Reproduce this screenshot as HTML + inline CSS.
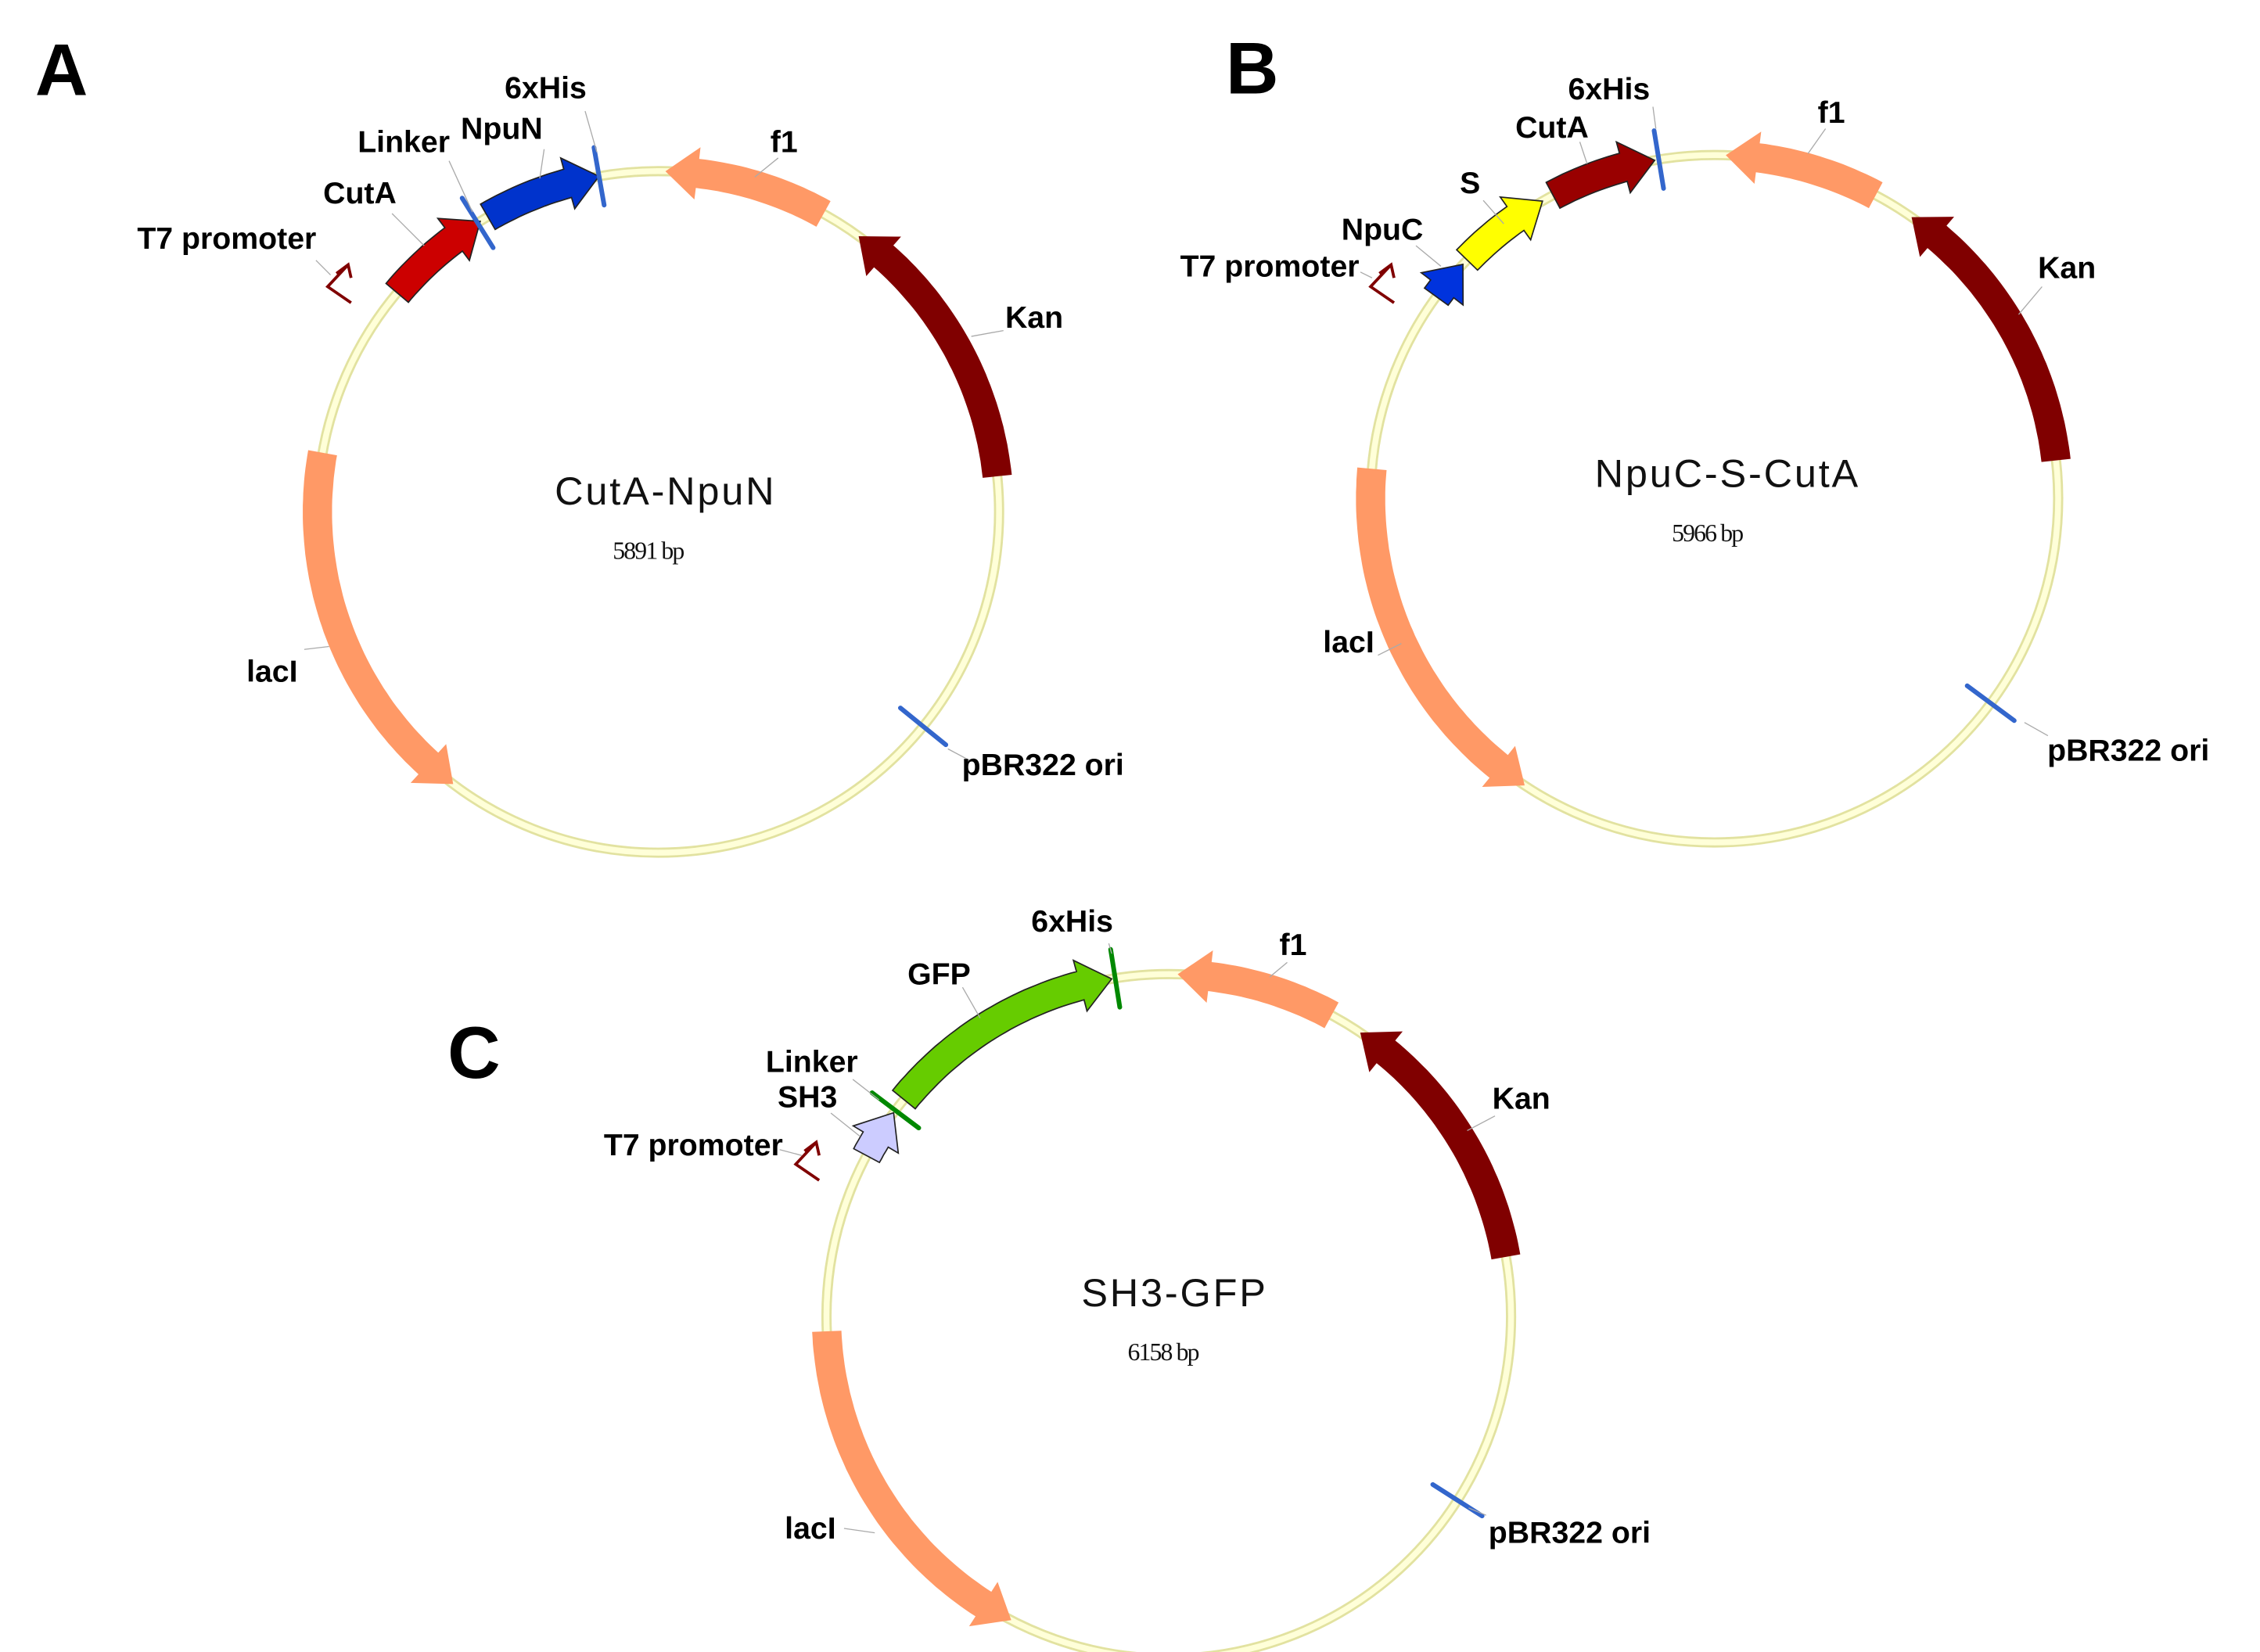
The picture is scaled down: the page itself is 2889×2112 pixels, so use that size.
<!DOCTYPE html>
<html><head><meta charset="utf-8"><style>
html,body{margin:0;padding:0;background:#fff;}
svg{display:block;}
text{font-family:"Liberation Sans",sans-serif;}
.lbl{font-weight:bold;font-size:21px;fill:#000;}
.panel{font-weight:bold;font-size:50px;fill:#000;}
.title{font-size:27px;fill:#111;letter-spacing:1.5px;}
.bp{font-family:"Liberation Serif",serif;font-size:17px;fill:#111;letter-spacing:-1px;}
</style></head><body>
<svg id="fig" width="2889" height="2112" viewBox="0 0 1545 1129.5" preserveAspectRatio="none" xmlns="http://www.w3.org/2000/svg"></svg>
<script>
// plasmid geometry (centres/radii in display units)
const plasmidNames = ["CutA-NpuN","NpuC-S-CutA","SH3-GFP"];
const plasmidSizes = ["5891 bp","5966 bp","6158 bp"];
const panelLetters = ["A","B","C"];
// features: [plasmidIndex, name, startDeg, endDeg, headAtEnd(1)/start(-1), color, outlined]
const featA = [["CutA",-50,-31.5,1,"#cc0000",1],["NpuN",-30,-10,1,"#0033cc",1],["f1",1.2,29,-1,"#ff9966",0],["Kan",36,84,-1,"#800000",0],["lacI",217,280,-1,"#ff9966",0]];
const featB = [["NpuC",-54,-47,1,"#0033dd",1],["S",-46,-30,1,"#ffff00",1],["CutA",-28,-10,1,"#990000",1],["f1",1.9,28,-1,"#ff9966",0],["Kan",35,83.6,-1,"#800000",0],["lacI",213.5,275,-1,"#ff9966",0]];
const featC = [["SH3",-62,-53.5,1,"#ccccff",1],["GFP",-50.7,-9.6,1,"#66cc00",1],["f1",1.5,28.4,-1,"#ff9966",0],["Kan",34,80,-1,"#800000",0],["lacI",207.4,267.5,-1,"#ff9966",0]];
// site markers: [name, angle, color]
const siteA = [["Linker",-32,"#3366cc"],["6xHis",-10,"#3366cc"],["pBR322 ori",129,"#3366cc"]];
const siteB = [["6xHis",-9.3,"#3366cc"],["pBR322 ori",126.5,"#3366cc"]];
const siteC = [["Linker",-53,"#008800"],["6xHis",-9,"#008800"],["pBR322 ori",122.5,"#3366cc"]];

const geo = [{cx:450,cy:350,r:233},{cx:1172,cy:341,r:235},{cx:799,cy:900,r:234}];
const NS="http://www.w3.org/2000/svg";
const svg=document.getElementById('fig');
function mk(t,a){const e=document.createElementNS(NS,t);for(const k in a)e.setAttribute(k,a[k]);svg.appendChild(e);return e;}
function pt(g,r,d){const a=d*Math.PI/180;return [g.cx+r*Math.sin(a),g.cy-r*Math.cos(a)];}
function arcPts(g,r,a1,a2){const n=Math.max(2,Math.ceil(Math.abs(a2-a1)));const o=[];for(let i=0;i<=n;i++){o.push(pt(g,r,a1+(a2-a1)*i/n));}return o;}
function featPath(g,a1,a2,dir,w){
  const hl=22*180/(Math.PI*g.r);const hw=8;
  const ro=g.r+w/2,ri=g.r-w/2;let p=[];
  if(dir===1){const b=Math.max(a1,a2-hl);
    p=p.concat(arcPts(g,ro,a1,b));p.push(pt(g,ro+hw,b));p.push(pt(g,g.r,a2));p.push(pt(g,ri-hw,b));p=p.concat(arcPts(g,ri,b,a1));
  }else{const b=Math.min(a2,a1+hl);
    p.push(pt(g,g.r,a1));p.push(pt(g,ro+hw,b));p=p.concat(arcPts(g,ro,b,a2));p=p.concat(arcPts(g,ri,a2,b));p.push(pt(g,ri-hw,b));
  }
  return 'M'+p.map(q=>q[0].toFixed(1)+','+q[1].toFixed(1)).join('L')+'Z';
}
const feats=[featA,featB,featC], sites=[siteA,siteB,siteC];
const t7=[[232,195],[945,195],[552,795]];
const titlePos=[[455,345],[1181,333],[803,893]], bpPos=[[443,382],[1167,370],[795,930]];
const letterPos=[[24,65],[838,64],[306,737]];
for(let i=0;i<3;i++){
  const g=geo[i];
  const ring1=mk('circle',{cx:g.cx,cy:g.cy,r:g.r,fill:'none',stroke:'#e2e2a0','stroke-width':7});
  
  
  const ring2=mk('circle',{cx:g.cx,cy:g.cy,r:g.r,fill:'none',stroke:'#ffffd8','stroke-width':4});
  
  
  feats[i].forEach(f=>{
    const p=mk('path',{d:featPath(g,f[1],f[2],f[3],20),fill:f[4],stroke:f[5]?'#222':'none','stroke-width':f[5]?0.9:0});
    
    
  });
  sites[i].forEach(s=>{
    const a=pt(g,g.r-20,s[1]),b=pt(g,g.r+20,s[1]);
    const l=mk('line',{x1:a[0],y1:a[1],x2:b[0],y2:b[1],stroke:s[2],'stroke-width':3.2,'stroke-linecap':'round'});
    
    
  });
  const [x,y]=t7[i];
  const pr=mk('path',{d:`M${x+8},${y+12}L${x-8},${y+1}L${x+6},${y-14}M${x-2},${y-8}L${x+6},${y-14}L${x+8},${y-5}`,fill:'none',stroke:'#800000','stroke-width':2});
  
  
  const tt=mk('text',{x:titlePos[i][0],y:titlePos[i][1],'text-anchor':'middle',class:'title'});tt.textContent=plasmidNames[i];
  
  
  const bt=mk('text',{x:bpPos[i][0],y:bpPos[i][1],'text-anchor':'middle',class:'bp'});bt.textContent=plasmidSizes[i];
  
  
  const pl=mk('text',{x:letterPos[i][0],y:letterPos[i][1],class:'panel'});pl.textContent=panelLetters[i];
  
  
}
// labels: [text, x, y, leaderX1, leaderY1, leaderX2, leaderY2]
const labels=[
["6xHis",373,67,400,76,408,104],["Linker",276,104,307,110,323,145],["NpuN",343,95,372,102,369,122],["CutA",246,139,268,146,290,168],["T7 promoter",155,170,216,178,226,188],["f1",536,104,532,108,516,121],["Kan",707,224,686,226,664,230],["lacI",186,466,208,444,225,442],["pBR322 ori",713,530,663,520,648,512],
["6xHis",1100,68,1130,73,1132,88],["CutA",1061,94,1080,97,1085,112],["S",1005,132,1014,137,1028,153],["NpuC",945,164,968,168,985,182],["T7 promoter",868,189,930,186,938,190],["f1",1252,84,1248,88,1236,105],["Kan",1413,190,1396,196,1380,215],["lacI",922,446,942,448,958,440],["pBR322 ori",1455,520,1400,503,1384,494],
["6xHis",733,637,758,645,760,652],["GFP",642,673,658,675,670,696],["Linker",555,733,583,738,601,752],["SH3",552,757,568,761,588,777],["T7 promoter",474,790,533,786,548,790],["f1",884,653,880,658,868,668],["Kan",1040,758,1022,763,1003,773],["lacI",554,1052,577,1045,598,1048],["pBR322 ori",1073,1055,1016,1036,1004,1031]
];
labels.forEach(L=>{
  const ln=mk('line',{x1:L[3],y1:L[4],x2:L[5],y2:L[6],stroke:'#aaa','stroke-width':0.7});
  
  
  const t=mk('text',{x:L[1],y:L[2],'text-anchor':'middle',class:'lbl'});t.textContent=L[0];
  
  
});
</script>
</body></html>
